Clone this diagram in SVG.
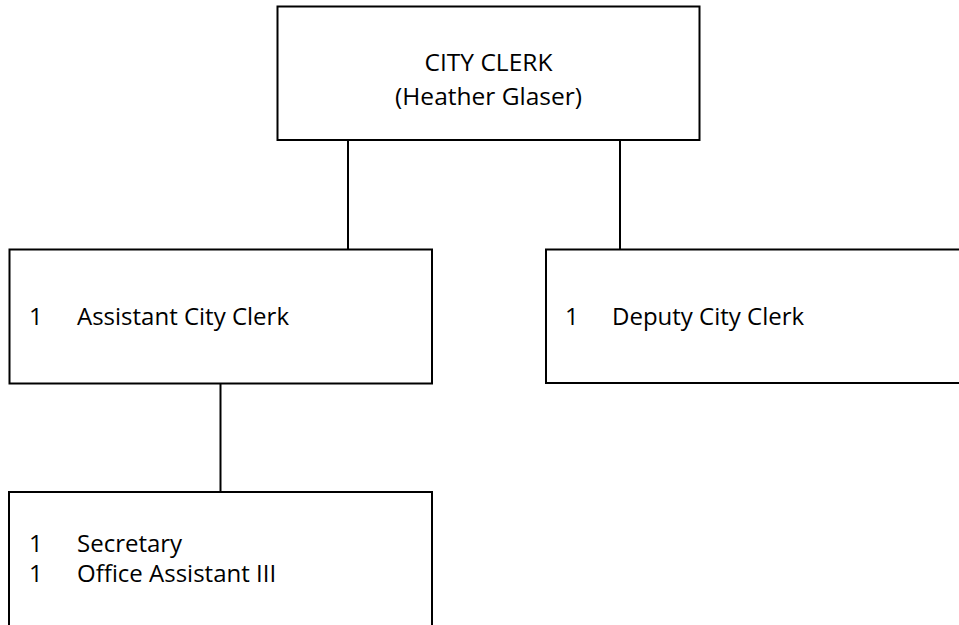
<svg xmlns="http://www.w3.org/2000/svg" width="959" height="625" viewBox="0 0 959 625">
<style>
.box{fill:#fff;stroke:#000;stroke-width:2}
.ln{stroke:#000;stroke-width:2;fill:none}
text{font-family:"Open Sans","Liberation Sans",sans-serif;font-size:24px;fill:#000}
.c{text-anchor:middle;font-size:24.5px}
</style>
<rect width="959" height="625" fill="#fff"/>
<g id="connectors">
<line class="ln" x1="348" y1="140" x2="348" y2="250"/>
<line class="ln" x1="620" y1="140" x2="620" y2="250"/>
<line class="ln" x1="220.5" y1="384" x2="220.5" y2="492"/>
</g>
<g id="city-clerk">
<rect class="box" x="277.5" y="6.5" width="422" height="133.5"/>
<text class="c" x="488.5" y="71">CITY CLERK</text>
<text class="c" x="488.5" y="105">(Heather Glaser)</text>
</g>
<g id="assistant-city-clerk">
<rect class="box" x="9.5" y="249.5" width="422.5" height="134"/>
<text x="29" y="325">1</text>
<text x="77" y="325">Assistant City Clerk</text>
</g>
<g id="deputy-city-clerk">
<rect class="box" x="546" y="249.5" width="430" height="133.5"/>
<text x="565" y="325">1</text>
<text x="612" y="325">Deputy City Clerk</text>
</g>
<g id="support-staff">
<rect class="box" x="9" y="492" width="423" height="160"/>
<text x="29" y="552">1</text>
<text x="77" y="552">Secretary</text>
<text x="29" y="582">1</text>
<text x="77" y="582">Office Assistant III</text>
</g>
</svg>
